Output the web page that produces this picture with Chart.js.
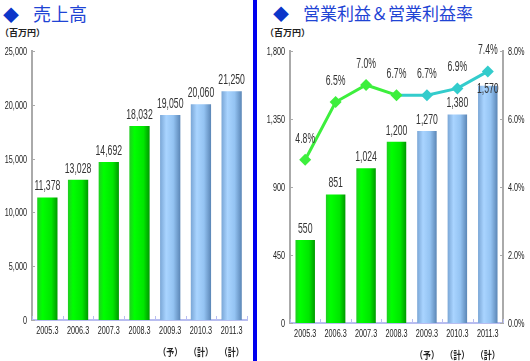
<!DOCTYPE html>
<html>
<head>
<meta charset="utf-8">
<script src="https://cdn.jsdelivr.net/npm/chart.js@4/dist/chart.umd.min.js"></script>
<style>
  html, body { margin: 0; padding: 0; background: #fff; }
  #wrap { position: relative; width: 530px; height: 361px; overflow: hidden; font-family: "Noto Sans CJK JP", sans-serif; }
  canvas { position: absolute; top: 0; }
  .title { position: absolute; top: 0px; font-size: 18px; color: #1f44d4; white-space: nowrap; line-height: 26px; }
  .title .dia { color: #0b36c9; font-size: 16px; margin-right: 14px; }
  .unit { position: absolute; top: 26px; font-size: 9px; font-weight: bold; color: #222; }
  #sep { position: absolute; left: 253px; top: 0; width: 4px; height: 361px; background: #0000ee; }
</style>
</head>
<body>
<div id="wrap">
  <div class="title" style="left:3px"><span class="dia">◆</span>売上高</div>
  <div class="unit" style="left:0px">（百万円）</div>
  <div class="title" style="left:273px;font-size:17px"><span class="dia">◆</span>営業利益＆営業利益率</div>
  <div class="unit" style="left:265px">（百万円）</div>
  <div id="sep"></div>
  <canvas id="sales" width="253" height="361" style="left:0"></canvas>
  <canvas id="profit" width="271" height="361" style="left:259px"></canvas>
</div>
<script>
// データ
const years = ['2005.3', '2006.3', '2007.3', '2008.3', '2009.3', '2010.3', '2011.3'];
const yearNotes = ['', '', '', '', '（予）', '（計）', '（計）'];
const salesValues = [11378, 13028, 14692, 18032, 19050, 20060, 21250];
const profitValues = [550, 851, 1024, 1200, 1270, 1380, 1570];
const marginValues = [4.8, 6.5, 7.0, 6.7, 6.7, 6.9, 7.4];
const salesTicks = [0, 5000, 10000, 15000, 20000, 25000];
const profitTicks = [0, 450, 900, 1350, 1800];
const marginTicks = [0, 2, 4, 6, 8];
const forecastFrom = 4; // 2009.3 以降は予想・計画

const labels = years.map((y, i) => yearNotes[i] ? [y, yearNotes[i]] : y);

const FONT = '"Liberation Sans", Arial, sans-serif';
const CJK = '"Noto Sans CJK JP", sans-serif';
const GREEN = '#3def3d';
const TEAL = '#33cccc';

// 細い文字（横に縮めて描く）
function narrowText(ctx, txt, x, y, align, size, squeeze, family, weight) {
  ctx.save();
  ctx.translate(x, y);
  ctx.scale(squeeze, 1);
  ctx.font = (weight || 'normal') + ' ' + size + 'px ' + (family || FONT);
  ctx.textAlign = align;
  ctx.textBaseline = 'middle';
  ctx.fillText(txt, 0, 0);
  ctx.restore();
}

// 棒に横方向のグラデーションを付ける
const barShade = {
  id: 'barShade',
  beforeDatasetsDraw(chart) {
    const ctx = chart.ctx;
    chart.data.datasets.forEach((ds, di) => {
      const meta = chart.getDatasetMeta(di);
      if (meta.type !== 'bar') return;
      meta.data.forEach((el, i) => {
        const { x, width } = el.getProps(['x', 'width'], true);
        const g = ctx.createLinearGradient(x - width / 2, 0, x + width / 2, 0);
        if (i < forecastFrom) {
          g.addColorStop(0, '#22cc22');
          g.addColorStop(0.25, '#00ff00');
          g.addColorStop(0.7, '#00e600');
          g.addColorStop(1, '#009900');
        } else {
          g.addColorStop(0, '#7aa6d6');
          g.addColorStop(0.3, '#a9d4ff');
          g.addColorStop(0.65, '#94c3f2');
          g.addColorStop(1, '#5b86b6');
        }
        el.options = Object.assign({}, el.options, { backgroundColor: g });
      });
    });
  }
};

// 値ラベル
const valueLabels = {
  id: 'valueLabels',
  afterDatasetsDraw(chart) {
    const ctx = chart.ctx;
    ctx.save();
    ctx.fillStyle = '#333';
    chart.data.datasets.forEach((ds, di) => {
      const meta = chart.getDatasetMeta(di);
      const shift = ds.labelShift || [];
      meta.data.forEach((el, i) => {
        const v = ds.data[i];
        const txt = ds.type === 'line' ? v.toFixed(1) + '%' : v.toLocaleString('en-US');
        const dy = ds.type === 'line' ? -21 : -11;
        narrowText(ctx, txt, el.x, el.y + dy + (shift[i] || 0), 'center', 14, 0.62);
      });
    });
    ctx.restore();
  }
};

// 軸ラベルと小さな目盛り線
const axisMarks = {
  id: 'axisMarks',
  afterDraw(chart) {
    const ctx = chart.ctx;
    const a = chart.chartArea;
    const xs = chart.scales.x;
    ctx.save();
    ctx.lineWidth = 1;
    ctx.strokeStyle = '#b8bdf0';
    const n = chart.data.labels.length;
    for (let i = 0; i <= n; i++) {
      const px = Math.round(xs.left + (xs.width / n) * i) + 0.5;
      ctx.beginPath();
      ctx.moveTo(px, a.bottom);
      ctx.lineTo(px, a.bottom - 4);
      ctx.stroke();
    }
    ctx.fillStyle = '#222';
    chart.data.labels.forEach((lab, i) => {
      const px = xs.getPixelForValue(i);
      const lines = Array.isArray(lab) ? lab : [lab];
      narrowText(ctx, lines[0], px, a.bottom + 11, 'center', 11, 0.66);
      if (lines[1]) narrowText(ctx, lines[1], px, a.bottom + 32, 'center', 10, 0.8, CJK, 'bold');
    });
    ['y', 'y1'].forEach(id => {
      const s = chart.scales[id];
      if (!s) return;
      const left = s.position === 'left';
      const ax = left ? a.left : a.right;
      const fmt = s.options.ticks.callback;
      s.ticks.forEach(t => {
        const py = Math.round(s.getPixelForValue(t.value)) + 0.5;
        ctx.strokeStyle = '#aaa';
        ctx.beginPath();
        ctx.moveTo(ax, py);
        ctx.lineTo(ax + (left ? 3 : -3), py);
        ctx.stroke();
        narrowText(ctx, fmt(t.value), left ? ax - 5 : ax + 5, py, left ? 'right' : 'left', 11, 0.66);
      });
    });
    ctx.restore();
  }
};

function xAxis(height) {
  return {
    grid: { display: false },
    border: { color: '#b8bdf0', width: 2 },
    ticks: { display: false },
    afterFit(s) { s.height = height; }
  };
}

function yAxis(pos, width, max, fmt, ticksList) {
  return {
    position: pos,
    min: 0,
    max: max,
    grid: { display: false },
    border: { color: '#aaa', width: 2 },
    afterBuildTicks(s) { s.ticks = ticksList.map(v => ({ value: v })); },
    ticks: { display: false, callback: fmt },
    afterFit(s) { s.width = width; }
  };
}

Chart.defaults.animation = false;

new Chart(document.getElementById('sales'), {
  type: 'bar',
  data: {
    labels: labels,
    datasets: [{
      label: '売上高',
      data: salesValues,
      backgroundColor: salesValues.map((v, i) => i < forecastFrom ? '#00ff00' : '#99ccff'),
      categoryPercentage: 1,
      barPercentage: 0.66
    }]
  },
  options: {
    responsive: false,
    devicePixelRatio: 1,
    layout: { padding: { top: 51, right: 6, left: 0, bottom: 0 } },
    plugins: { legend: { display: false }, tooltip: { enabled: false } },
    scales: {
      x: xAxis(41),
      y: yAxis('left', 32, 25000, v => v.toLocaleString('en-US'), salesTicks)
    }
  },
  plugins: [barShade, valueLabels, axisMarks]
});

new Chart(document.getElementById('profit'), {
  type: 'bar',
  data: {
    labels: labels,
    datasets: [{
      type: 'line',
      label: '営業利益率',
      data: marginValues,
      yAxisID: 'y1',
      order: 0,
      borderWidth: 3,
      segment: { borderColor: c => c.p1DataIndex >= forecastFrom ? TEAL : GREEN },
      borderColor: GREEN,
      pointStyle: 'rectRot',
      pointRadius: 6,
      pointBorderWidth: 0,
      pointBackgroundColor: marginValues.map((v, i) => i < forecastFrom ? GREEN : TEAL),
      tension: 0
    }, {
      label: '営業利益',
      data: profitValues,
      yAxisID: 'y',
      order: 1,
      backgroundColor: profitValues.map((v, i) => i < forecastFrom ? '#00ff00' : '#99ccff'),
      categoryPercentage: 1,
      barPercentage: 0.64,
      labelShift: [0, 0, 0, 0, 0, 0, 14]
    }]
  },
  options: {
    responsive: false,
    devicePixelRatio: 1,
    layout: { padding: { top: 51, right: 0, left: 0, bottom: 0 } },
    plugins: { legend: { display: false }, tooltip: { enabled: false } },
    scales: {
      x: xAxis(38),
      y: yAxis('left', 31, 1800, v => v.toLocaleString('en-US'), profitTicks),
      y1: yAxis('right', 27, 8, v => v.toFixed(1) + '%', marginTicks)
    }
  },
  plugins: [barShade, valueLabels, axisMarks]
});
</script>
</body>
</html>
